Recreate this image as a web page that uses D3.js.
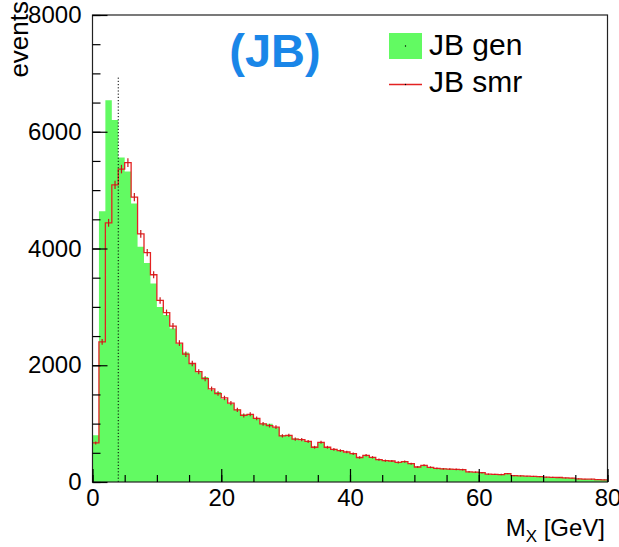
<!DOCTYPE html>
<html>
<head>
<meta charset="utf-8">
<script src="https://cdn.jsdelivr.net/npm/d3@7/dist/d3.min.js"></script>
<style>
  html, body { margin: 0; padding: 0; background: #fff; }
  svg { display: block; }
  text { font-family: "Liberation Sans", Arial, Helvetica, sans-serif; }
</style>
</head>
<body>
<svg id="chart" width="619" height="547"></svg>
<script>
// M_X distribution, 1 GeV bins from 0 to 80 GeV
const binLow = 0, binHigh = 80, binWidth = 1;

// generated-level counts per bin (filled histogram)
const genCounts = [
  800, 4640, 6540, 6200, 5560, 5320, 4770, 4030, 3750, 3400,
  3000, 2860, 2630, 2370, 2220, 2020, 1880, 1800, 1580, 1540,
  1420, 1340, 1240, 1160, 1150, 1080, 1000, 1000, 935, 800,
  790, 745, 715, 700, 610, 670, 600, 555, 540, 505,
  490, 425, 455, 430, 375, 370, 355, 340, 345, 320,
  262, 280, 255, 228, 230, 224, 222, 218, 172, 170,
  165, 131, 133, 126, 145, 108, 107, 97, 98, 90,
  84, 77, 78, 67, 68, 52, 51, 47, 42, 37
];

// smeared counts per bin (red line with error bars)
const smrCounts = [
  670, 2400, 4440, 5090, 5360, 5470, 4880, 4250, 3930, 3550,
  3110, 2900, 2670, 2380, 2190, 2030, 1890, 1770, 1595, 1515,
  1440, 1350, 1235, 1140, 1160, 1090, 995, 965, 940, 790,
  800, 735, 725, 695, 595, 680, 595, 560, 537, 514,
  485, 420, 457, 423, 382, 365, 360, 337, 348, 314,
  257, 286, 252, 232, 226, 220, 216, 212, 175, 168,
  160, 134, 130, 128, 143, 110, 105, 99, 96, 92,
  82, 79, 77, 69, 66, 54, 50, 48, 41, 38
];

// axis ticks
const xMajorTicks = [0, 20, 40, 60, 80];
const xMinorTicks = d3.range(0, 81, 5);
const yMajorTicks = [0, 2000, 4000, 6000, 8000];
const yMinorTicks = d3.range(0, 8001, 500);

// dotted reference line at M_X = 4 GeV
const refLineX = 4;
const refLineTop = 6940;

const legendLabels = ["JB gen", "JB smr"];
const tagText = "(JB)";
const xTitle = ["M", "X", " [GeV]"];
const yTitle = "events";

const colors = { gen: "#62fa62", smr: "#e32222", tag: "#1a86e8" };

const svg = d3.select("#chart");
const frame = { left: 92.5, right: 607.5, top: 15, bottom: 482 };

const x = d3.scaleLinear().domain([binLow, binHigh]).range([frame.left, frame.right]);
const y = d3.scaleLinear().domain([0, 8000]).range([frame.bottom, frame.top]);

function bins(counts) {
  return counts.map((v, i) => ({ x0: binLow + i * binWidth, x1: binLow + (i + 1) * binWidth, v }));
}
const genBins = bins(genCounts);
const smrBins = bins(smrCounts);

// filled generated histogram
const genArea = d3.area()
  .curve(d3.curveStepAfter)
  .x(d => x(d.x))
  .y0(y(0))
  .y1(d => y(d.v));
const genPts = genBins.map(b => ({ x: b.x0, v: b.v }));
genPts.push({ x: binHigh, v: genCounts[genCounts.length - 1] });
svg.append("path")
  .attr("d", genArea(genPts))
  .attr("fill", colors.gen)
  .attr("stroke", "none");

// smeared histogram outline
const stepLine = d3.line()
  .curve(d3.curveStepAfter)
  .x(d => x(d.x))
  .y(d => y(d.v));
const smrPts = smrBins.map(b => ({ x: b.x0, v: b.v }));
smrPts.push({ x: binHigh, v: smrCounts[smrCounts.length - 1] });
svg.append("path")
  .attr("d", stepLine(smrPts))
  .attr("fill", "none")
  .attr("stroke", colors.smr)
  .attr("stroke-width", 1.3);

// statistical error bars at bin centres
svg.append("g")
  .selectAll("line")
  .data(smrBins)
  .join("line")
  .attr("x1", d => x((d.x0 + d.x1) / 2))
  .attr("x2", d => x((d.x0 + d.x1) / 2))
  .attr("y1", d => y(d.v + Math.sqrt(d.v)))
  .attr("y2", d => y(d.v - Math.sqrt(d.v)))
  .attr("stroke", "#c81818")
  .attr("stroke-width", 1.2);

// dotted marker line
svg.append("line")
  .attr("x1", x(refLineX)).attr("x2", x(refLineX))
  .attr("y1", y(0)).attr("y2", y(refLineTop))
  .attr("stroke", "#000")
  .attr("stroke-width", 1)
  .attr("stroke-dasharray", "1.2,2");

// frame
svg.append("rect")
  .attr("x", frame.left).attr("y", frame.top)
  .attr("width", frame.right - frame.left)
  .attr("height", frame.bottom - frame.top)
  .attr("fill", "none")
  .attr("stroke", "#222")
  .attr("stroke-width", 1.2);

// axes (ticks point into the frame)
function styleAxis(g) {
  g.select(".domain").remove();
  g.selectAll(".tick line").attr("stroke", "#000").attr("stroke-width", 1.2);
  g.selectAll("text")
    .attr("font-size", 24)
    .attr("fill", "#000")
    .attr("font-family", "'Liberation Sans', Arial, sans-serif");
}

svg.append("g")
  .attr("transform", `translate(0,${frame.bottom})`)
  .call(d3.axisBottom(x).tickValues(xMinorTicks).tickSize(-7).tickFormat(""))
  .call(styleAxis);
svg.append("g")
  .attr("transform", `translate(0,${frame.bottom})`)
  .call(d3.axisBottom(x).tickValues(xMajorTicks).tickSize(-13).tickPadding(7).tickFormat(d3.format("d")))
  .call(styleAxis);

svg.append("g")
  .attr("transform", `translate(${frame.left},0)`)
  .call(d3.axisLeft(y).tickValues(yMinorTicks).tickSize(-8).tickFormat(""))
  .call(styleAxis);
svg.append("g")
  .attr("transform", `translate(${frame.left},0)`)
  .call(d3.axisLeft(y).tickValues(yMajorTicks).tickSize(-15).tickPadding(11).tickFormat(d3.format("d")))
  .call(styleAxis);

// axis titles
const xt = svg.append("text")
  .attr("x", 605).attr("y", 536)
  .attr("text-anchor", "end")
  .attr("font-size", 24)
  .attr("fill", "#000");
xt.append("tspan").text(xTitle[0]);
xt.append("tspan").attr("font-size", 17).attr("dy", 6).text(xTitle[1]);
xt.append("tspan").attr("dy", -6).text(xTitle[2]);

svg.append("text")
  .attr("transform", "translate(28,1) rotate(-90)")
  .attr("text-anchor", "end")
  .attr("font-size", 26)
  .attr("fill", "#000")
  .text(yTitle);

// tag
svg.append("text")
  .attr("x", 275).attr("y", 67)
  .attr("text-anchor", "middle")
  .attr("font-family", "'DejaVu Sans', sans-serif")
  .attr("font-weight", "bold")
  .attr("font-size", 47)
  .attr("fill", colors.tag)
  .text(tagText);

// legend
const legend = svg.append("g");
legend.append("rect")
  .attr("x", 389).attr("y", 33).attr("width", 33).attr("height", 26)
  .attr("fill", colors.gen);
legend.append("circle").attr("cx", 405.5).attr("cy", 46).attr("r", 0.7).attr("fill", "#000");
legend.append("line")
  .attr("x1", 389).attr("x2", 422).attr("y1", 84.5).attr("y2", 84.5)
  .attr("stroke", colors.smr).attr("stroke-width", 1.3);
legend.append("circle").attr("cx", 405.5).attr("cy", 84.5).attr("r", 0.7).attr("fill", "#000");
legend.selectAll("text.lg")
  .data(legendLabels)
  .join("text")
  .attr("class", "lg")
  .attr("x", 429)
  .attr("y", (d, i) => 55 + i * 37)
  .attr("font-size", 30)
  .attr("fill", "#000")
  .text(d => d);
</script>
</body>
</html>
